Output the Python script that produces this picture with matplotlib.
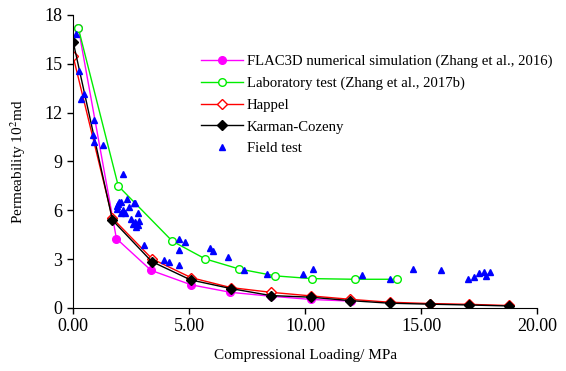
import matplotlib
matplotlib.use("Agg")
import matplotlib.pyplot as plt
import numpy as np

plt.rcParams['font.family'] = ['Liberation Serif', 'DejaVu Serif']
plt.rcParams['mathtext.fontset'] = 'stix'

# FLAC3D numerical simulation (Zhang et al., 2016)
flac_x = [0.23, 1.87, 3.36, 5.09, 6.78, 8.52, 10.27, 11.97]
flac_y = [17.18, 4.26, 2.31, 1.42, 0.96, 0.72, 0.52, 0.42]

# Laboratory test (Zhang et al., 2017b)
lab_x = [0.23, 1.95, 4.28, 5.70, 7.14, 8.71, 10.29, 12.16, 13.95]
lab_y = [17.18, 7.49, 4.10, 3.01, 2.40, 1.97, 1.80, 1.76, 1.76]

# Happel
hap_x = [0.0, 1.70, 3.41, 5.09, 6.80, 8.52, 10.24, 11.94, 13.64, 15.37, 17.07, 18.78]
hap_y = [15.48, 5.51, 3.01, 1.86, 1.25, 0.96, 0.74, 0.53, 0.35, 0.27, 0.22, 0.15]

# Karman-Cozeny
kc_x = [0.01, 1.70, 3.39, 5.07, 6.80, 8.52, 10.24, 11.92, 13.64, 15.37, 17.07, 18.78]
kc_y = [16.32, 5.39, 2.85, 1.72, 1.19, 0.76, 0.66, 0.45, 0.29, 0.23, 0.18, 0.12]

# Field test
field_x = [0.12, 0.27, 0.34, 0.47, 0.85, 0.91, 0.91, 1.28, 2.17,
           1.88, 1.91, 1.95, 2.00, 2.05, 2.07, 2.17, 2.24, 2.31, 2.41, 2.49,
           2.60, 2.64, 2.67, 2.67, 2.72, 2.79, 2.81, 2.84, 3.06,
           3.94, 4.13, 4.58, 4.57, 4.55, 4.82, 5.91, 6.05, 6.70, 7.38, 8.37,
           9.92, 10.36, 12.47, 13.66, 14.67, 15.85, 17.02, 17.29, 17.51,
           17.72, 17.80, 17.98]
field_y = [16.83, 14.58, 12.84, 13.14, 10.63, 11.52, 10.22, 10.03, 8.20,
           6.06, 6.27, 6.37, 6.53, 6.53, 5.82, 6.02, 5.82, 6.69, 6.19, 5.45,
           5.14, 6.43, 6.47, 5.30, 4.96, 5.82, 5.10, 5.36, 3.87,
           2.95, 2.81, 2.66, 3.57, 4.22, 4.07, 3.67, 3.52, 3.15, 2.35, 2.10,
           2.09, 2.38, 2.05, 1.77, 2.42, 2.33, 1.78, 1.88, 2.13,
           2.22, 1.97, 2.21]

fig = plt.figure(figsize=(5.66, 3.71), dpi=100)
ax = fig.add_axes([0.129, 0.170, 0.820, 0.790])

ax.plot(flac_x, flac_y, color='#ff00ff', lw=1, marker='o', ms=5.5,
        mfc='#ff00ff', mec='#ff00ff',
        label='FLAC3D numerical simulation (Zhang et al., 2016)')
ax.plot(lab_x, lab_y, color='#00ee00', lw=1, marker='o', ms=5.5,
        mfc='white', mec='#00ee00',
        label='Laboratory test (Zhang et al., 2017b)')
ax.plot(hap_x, hap_y, color='#ff0000', lw=1, marker='D', ms=5,
        mfc='white', mec='#ff0000', label='Happel')
ax.plot(kc_x, kc_y, color='black', lw=1, marker='D', ms=5,
        mfc='black', mec='black', label='Karman-Cozeny')
ax.plot(field_x, field_y, ls='none', marker='^', ms=5,
        mfc='#0000ff', mec='#0000ff', label='Field test')

ax.set_xlim(0, 20)
ax.set_ylim(0, 18)
ax.set_xticks([0, 5, 10, 15, 20])
ax.set_xticklabels([f'{v:.2f}' for v in [0, 5, 10, 15, 20]])
ax.set_yticks(np.arange(0, 19, 3))
ax.tick_params(labelsize=13, length=4, width=1)
for s in ['top', 'right']:
    ax.spines[s].set_visible(False)

ax.set_xlabel('Compressional Loading/ MPa', fontsize=11, labelpad=10)
ax.set_ylabel('Permeability 10$^2$md', fontsize=11, labelpad=12)

ax.legend(loc='upper left', bbox_to_anchor=(0.263, 0.885), frameon=False,
          fontsize=10.6, handlelength=2.85, handletextpad=0.25,
          labelspacing=0.58, borderaxespad=0)

fig.savefig('out.png', dpi=100)
